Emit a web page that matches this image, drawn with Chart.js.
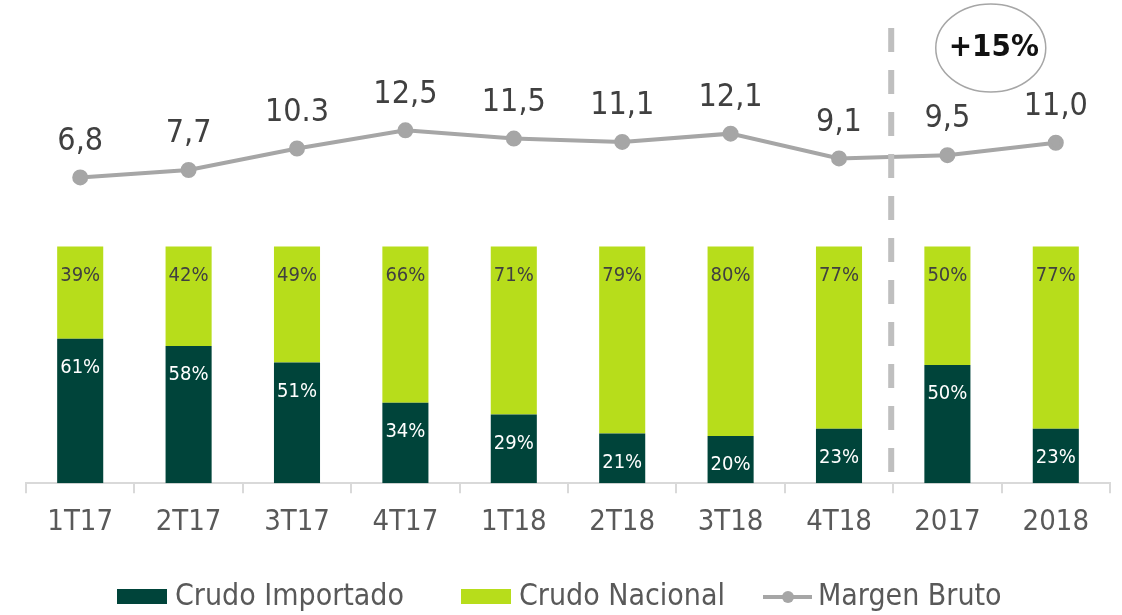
<!DOCTYPE html>
<html>
<head>
<meta charset="utf-8">
<script src="https://cdn.jsdelivr.net/npm/chart.js@4.4.1/dist/chart.umd.min.js"></script>
<style>
  body { margin: 0; background: #fff; }
  canvas { display: block; }
</style>
</head>
<body>
<canvas id="myChart" width="1122" height="615"></canvas>
<script>
var FONT = "'DejaVu Sans Condensed', 'DejaVu Sans', sans-serif";

var labels = ['1T17', '2T17', '3T17', '4T17', '1T18', '2T18', '3T18', '4T18', '2017', '2018'];
var importado = [61, 58, 51, 34, 29, 21, 20, 23, 50, 23];
var nacional = [39, 42, 49, 66, 71, 79, 80, 77, 50, 77];
var margen = [6.8, 7.7, 10.3, 12.5, 11.5, 11.1, 12.1, 9.1, 9.5, 11.0];
var margenText = ['6,8', '7,7', '10.3', '12,5', '11,5', '11,1', '12,1', '9,1', '9,5', '11,0'];

var dark = '#00443A';
var lime = '#B7DD1B';
var grey = '#A6A6A6';

// labels, dashed divider, "+15%" bubble and legend
var extras = {
  id: 'extras',
  afterDatasetsDraw: function(chart) {
    var ctx = chart.ctx;
    var x = chart.scales.x;
    ctx.save();

    // bar labels
    ctx.font = '20px ' + FONT;
    ctx.textAlign = 'center';
    ctx.textBaseline = 'middle';
    [0, 1].forEach(function(d) {
      chart.getDatasetMeta(d).data.forEach(function(bar, i) {
        var val = chart.data.datasets[d].data[i];
        ctx.fillStyle = d === 0 ? '#ffffff' : '#404040';
        ctx.fillText(val + '%', bar.x, bar.y + 29);
      });
    });

    // line labels
    ctx.font = '32px ' + FONT;
    ctx.fillStyle = '#404040';
    chart.getDatasetMeta(2).data.forEach(function(pt, i) {
      ctx.fillText(margenText[i], pt.x, pt.y - 36);
    });

    // dashed divider between 4T18 and 2017
    var xd = (x.getPixelForValue(7) + x.getPixelForValue(8)) / 2 - 2;
    ctx.strokeStyle = '#BFBFBF';
    ctx.lineWidth = 6;
    ctx.setLineDash([24, 18]);
    ctx.beginPath();
    ctx.moveTo(xd, 28);
    ctx.lineTo(xd, 472);
    ctx.stroke();
    ctx.setLineDash([]);

    // +15% bubble
    var xe = x.getPixelForValue(8) + 0.4 * (x.getPixelForValue(9) - x.getPixelForValue(8));
    ctx.strokeStyle = grey;
    ctx.lineWidth = 1.5;
    ctx.beginPath();
    ctx.ellipse(xe, 48, 55, 44, 0, 0, Math.PI * 2);
    ctx.stroke();
    ctx.font = 'bold 31px ' + FONT;
    ctx.fillStyle = '#111111';
    ctx.fillText('+15%', xe + 3, 48);

    // legend
    var ly = 597;
    ctx.font = '30px ' + FONT;
    ctx.textAlign = 'left';
    ctx.fillStyle = dark;
    ctx.fillRect(117, ly - 8, 50, 15);
    ctx.fillStyle = '#595959';
    ctx.fillText('Crudo Importado', 175, ly);
    ctx.fillStyle = lime;
    ctx.fillRect(461, ly - 8, 50, 15);
    ctx.fillStyle = '#595959';
    ctx.fillText('Crudo Nacional', 519, ly);
    ctx.strokeStyle = grey;
    ctx.lineWidth = 4;
    ctx.beginPath();
    ctx.moveTo(763, ly);
    ctx.lineTo(812, ly);
    ctx.stroke();
    ctx.fillStyle = grey;
    ctx.beginPath();
    ctx.arc(788, ly, 6, 0, Math.PI * 2);
    ctx.fill();
    ctx.fillStyle = '#595959';
    ctx.fillText('Margen Bruto', 818, ly);

    ctx.restore();
  }
};

var ctx = document.getElementById('myChart').getContext('2d');
var myChart = new Chart(ctx, {
  type: 'bar',
  data: {
    labels: labels,
    datasets: [{
      label: 'Crudo Importado',
      data: importado,
      backgroundColor: dark,
      stack: 's',
      yAxisID: 'y',
      barPercentage: 0.85,
      categoryPercentage: 0.5,
      order: 2
    }, {
      label: 'Crudo Nacional',
      data: nacional,
      backgroundColor: lime,
      stack: 's',
      yAxisID: 'y',
      barPercentage: 0.85,
      categoryPercentage: 0.5,
      order: 2
    }, {
      type: 'line',
      label: 'Margen Bruto',
      data: margen,
      borderColor: grey,
      backgroundColor: grey,
      borderWidth: 4,
      pointRadius: 6,
      pointHoverRadius: 6,
      yAxisID: 'y2',
      order: 1
    }]
  },
  options: {
    responsive: false,
    animation: false,
    devicePixelRatio: 1,
    layout: { padding: { left: 26, right: 12, top: 10, bottom: 63 } },
    plugins: {
      legend: { display: false },
      tooltip: { enabled: false }
    },
    scales: {
      x: {
        stacked: true,
        grid: { drawOnChartArea: false, drawTicks: true, tickLength: 10, color: '#D9D9D9', lineWidth: 2 },
        border: { color: '#D9D9D9', width: 2 },
        ticks: { color: '#595959', font: { family: FONT, size: 29 }, padding: 12 }
      },
      y: {
        stacked: true,
        display: false,
        min: 0,
        max: 200
      },
      y2: {
        display: false,
        min: -30.17,
        max: 27.05
      }
    }
  },
  plugins: [extras]
});
</script>
</body>
</html>
